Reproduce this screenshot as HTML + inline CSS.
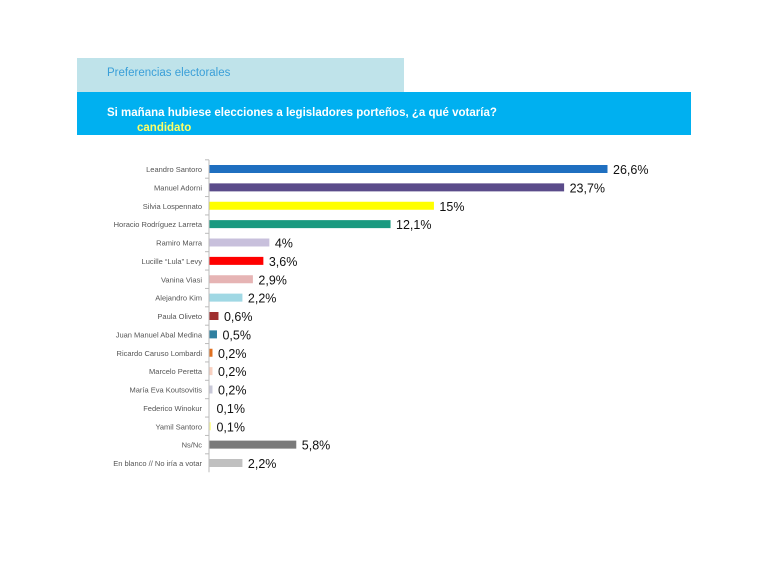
<!DOCTYPE html>
<html><head><meta charset="utf-8"><style>
body{margin:0;background:#fff;width:768px;height:576px;overflow:hidden;font-family:"Liberation Sans",sans-serif;position:relative}
#sub{position:absolute;left:77px;top:58px;width:327px;height:34px;background:#bfe3ea}
#sub span{position:absolute;left:30px;top:9px;font-size:11.5px;color:#3a9fd8}
#band{position:absolute;left:77px;top:92px;width:614px;height:43px;background:#00b0f0}
#band span{position:absolute;left:30px;top:15px;font-size:11.5px;font-weight:bold;color:#fff}
</style></head><body>
<div id="sub"><span>Preferencias electorales</span></div>
<div id="band"><span>Si mañana hubiese elecciones a legisladores porteños, ¿a qué <span style="color:#ffff66">candidato</span> votaría?</span></div>
<svg id="chart" width="768" height="576" style="position:absolute;left:0;top:0"></svg>
<script>
const categories=["Leandro Santoro","Manuel Adorni","Silvia Lospennato","Horacio Rodríguez Larreta","Ramiro Marra","Lucille “Lula” Levy","Vanina Viasi","Alejandro Kim","Paula Oliveto","Juan Manuel Abal Medina","Ricardo Caruso Lombardi","Marcelo Peretta","María Eva Koutsovitis","Federico Winokur","Yamil Santoro","Ns/Nc","En blanco // No iría a votar"];
const values=[26.6,23.7,15,12.1,4,3.6,2.9,2.2,0.6,0.5,0.2,0.2,0.2,0.1,0.1,5.8,2.2];
const valueLabels=["26,6%","23,7%","15%","12,1%","4%","3,6%","2,9%","2,2%","0,6%","0,5%","0,2%","0,2%","0,2%","0,1%","0,1%","5,8%","2,2%"];
const colors=["#1f6fc0","#5a4b8a","#ffff00","#1a9a80","#c8c0dc","#ff0000","#e6b4b4","#a0d8e4","#a03030","#2f80a0","#e07020","#f8d0c0","#c8c8d8","#ffffff","#ffff99","#7a7a7a","#c0c0c0"];
const svg=document.getElementById('chart');const NS="http://www.w3.org/2000/svg";
const x0=209,pxPer=398/26.6,y0=169,step=18.375;
const xs=v=>x0+v*pxPer, ys=i=>y0+i*step;
function mk(t,a){const e=document.createElementNS(NS,t);for(const k in a)e.setAttribute(k,a[k]);svg.appendChild(e);return e;}
const ax=mk('line',{x1:x0,x2:x0,y1:ys(0)-step/2,y2:ys(categories.length-1)+step/2,stroke:'#bbb','stroke-width':1});


categories.forEach((c,i)=>{
 const y=ys(i);
 const t=mk('line',{x1:x0-4,x2:x0,y1:y-step/2,y2:y-step/2,stroke:'#bbb'});
 
 
 const l=mk('text',{x:x0-7,y:y+3,'text-anchor':'end','font-size':'7.5',fill:'#555'});l.textContent=c;
 
 
 const w=Math.max(values[i]*pxPer,0);
 const r=mk('rect',{x:x0+0.5,y:y-4,width:w,height:8,fill:colors[i]});
 
 
 const v=mk('text',{x:xs(values[i])+6,y:y+5,'font-size':'12.5',fill:'#111'});v.textContent=valueLabels[i];
 
 
});
</script>
</body></html>
